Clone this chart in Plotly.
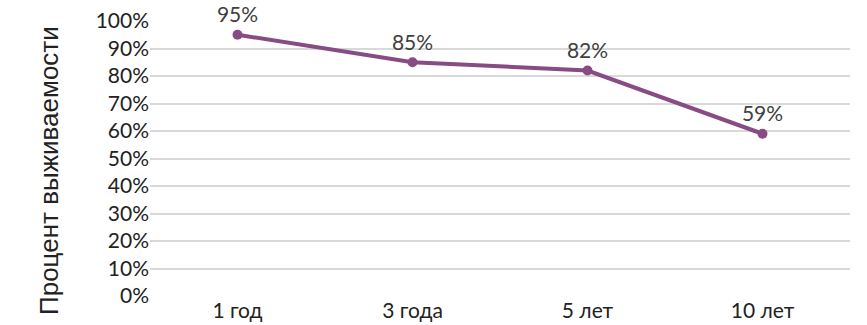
import plotly.graph_objects as go

categories = ["1 год", "3 года", "5 лет", "10 лет"]
survival = [0.95, 0.85, 0.82, 0.59]
labels = ["95%", "85%", "82%", "59%"]
y_title = "Процент выживаемости"

font = "Lato, Carlito, 'Open Sans', sans-serif"

W, H = 867, 325
L, R, T, B = 150, 17, 21, 29
pw, ph = W - L - R, H - T - B

fig = go.Figure()
fig.add_trace(go.Scatter(
    x=categories, y=survival, mode="lines+markers+text",
    text=labels, textposition="top center",
    textfont=dict(family=font, size=21, color="#404040"),
    line=dict(color="#874C84", width=4),
    marker=dict(color="#874C84", size=10),
    cliponaxis=False, showlegend=False, hoverinfo="skip",
))
fig.add_annotation(
    text=y_title, textangle=-90, showarrow=False,
    xref="paper", yref="paper",
    x=(49 - L) / pw, y=(H - B - 171) / ph,
    xanchor="center", yanchor="middle",
    font=dict(family="'Liberation Sans', Arial, sans-serif", size=26, color="#222222"),
)
fig.update_layout(
    width=W, height=H,
    margin=dict(l=L, r=R, t=T, b=B),
    paper_bgcolor="white", plot_bgcolor="white",
    font=dict(family=font, size=21, color="#222222"),
    xaxis=dict(range=[-0.5, 3.5], showgrid=False, showline=False, zeroline=False,
               ticks="", automargin=False,
               tickfont=dict(size=21, color="#222222")),
    yaxis=dict(range=[0, 1], tickvals=[i / 10 for i in range(11)], tickformat=".0%",
               showgrid=True, gridcolor="#D9D9D9", gridwidth=1.5,
               zeroline=False, showline=False, ticks="", automargin=False,
               ticklabeloverflow="allow",
               tickfont=dict(size=21, color="#222222")),
)
fig.write_html("out.html", config={"displayModeBar": False},
               post_script="document.body.style.margin='0';document.body.style.overflow='hidden';")
